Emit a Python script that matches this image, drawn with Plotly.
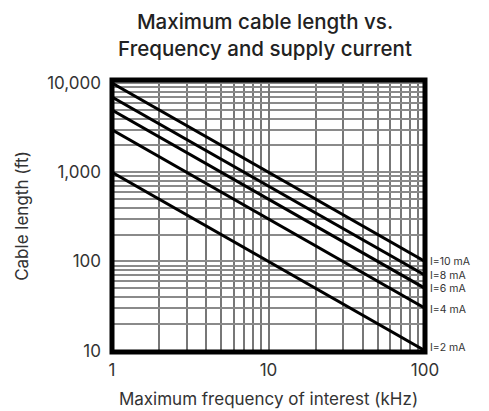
import numpy as np
import plotly.graph_objects as go

# ---- data ----
freq_khz = [1, 100]
currents = ["I=10 mA", "I=8 mA", "I=6 mA", "I=4 mA", "I=2 mA"]
length_10ma = [10000, 100]
length_8ma = [7000, 70]
length_6ma = [5000, 50]
length_4ma = [3000, 30]
length_2ma = [1000, 10]
series = [length_10ma, length_8ma, length_6ma, length_4ma, length_2ma]

x_tickvals = [1, 10, 100]
x_ticktext = ["1", "10", "100"]
y_tickvals = [10, 100, 1000, 10000]
y_ticktext = ["10", "100", "1,000", "10,000"]

# minor grid values (2..9 per decade)
x_minor = [m * 10 ** d for d in range(0, 2) for m in range(2, 10)]
y_minor = [m * 10 ** d for d in range(0, 5) for m in range(2, 10)]

FONT = "Inter"
TXT = "#333333"
W, H = 481, 403  # page adds an 8px body margin

fig = go.Figure()
for name, vals in zip(currents, series):
    fig.add_trace(go.Scatter(
        x=freq_khz, y=vals, mode="lines", name=name,
        line=dict(color="black", width=3), showlegend=False,
        hoverinfo="skip"))

label_shift = [0, 0, 0, -1, 3]
for name, vals, ys in zip(currents, series, label_shift):
    fig.add_annotation(
        x=1, xref="paper", y=np.log10(vals[-1]), yref="y",
        text=name, showarrow=False, xanchor="left", yanchor="middle",
        xshift=3, yshift=ys,
        font=dict(family=FONT, size=10.5, color=TXT))

fig.add_shape(type="rect", xref="paper", yref="paper", x0=0, x1=1, y0=0, y1=1,
              line=dict(color="black", width=5), layer="above")

fig.update_layout(
    width=W, height=H,
    margin=dict(l=104, r=64, t=72, b=59),
    paper_bgcolor="white", plot_bgcolor="white",
    title=dict(text="Maximum cable length vs.<br>Frequency and supply current",
               x=257 / W, xanchor="center", y=1 - 21 / H, yanchor="middle",
               font=dict(family=FONT, size=20.5, color="#222222", weight=500)),
    font=dict(family=FONT, color=TXT),
)

fig.update_xaxes(
    type="log", range=[0, 2], automargin=False,
    tickmode="array", tickvals=x_tickvals, ticktext=x_ticktext,
    tickfont=dict(family=FONT, size=17, color=TXT),
    showgrid=True, gridcolor="#777777", gridwidth=1.6,
    minor=dict(tickmode="array", tickvals=x_minor, showgrid=True,
               gridcolor="#777777", gridwidth=1.6, ticks=""),
    ticks="", showline=False, zeroline=False,
    ticklabelstandoff=6,
    title=dict(text="Maximum frequency of interest (kHz)",
               font=dict(family=FONT, size=17, color=TXT), standoff=14),
)

fig.update_yaxes(
    type="log", range=[0.985, 4.035], automargin=False,
    tickmode="array", tickvals=y_tickvals, ticktext=y_ticktext,
    tickfont=dict(family=FONT, size=17, color=TXT),
    showgrid=True, gridcolor="#8a8a8a", gridwidth=1.5,
    minor=dict(tickmode="array", tickvals=y_minor, showgrid=True,
               gridcolor="#8a8a8a", gridwidth=1.5, ticks=""),
    ticks="", showline=False, zeroline=False,
    ticklabelstandoff=10,
    title=dict(text="Cable length (ft)",
               font=dict(family=FONT, size=17, color=TXT), standoff=14),
)

fig.write_html("out.html")
